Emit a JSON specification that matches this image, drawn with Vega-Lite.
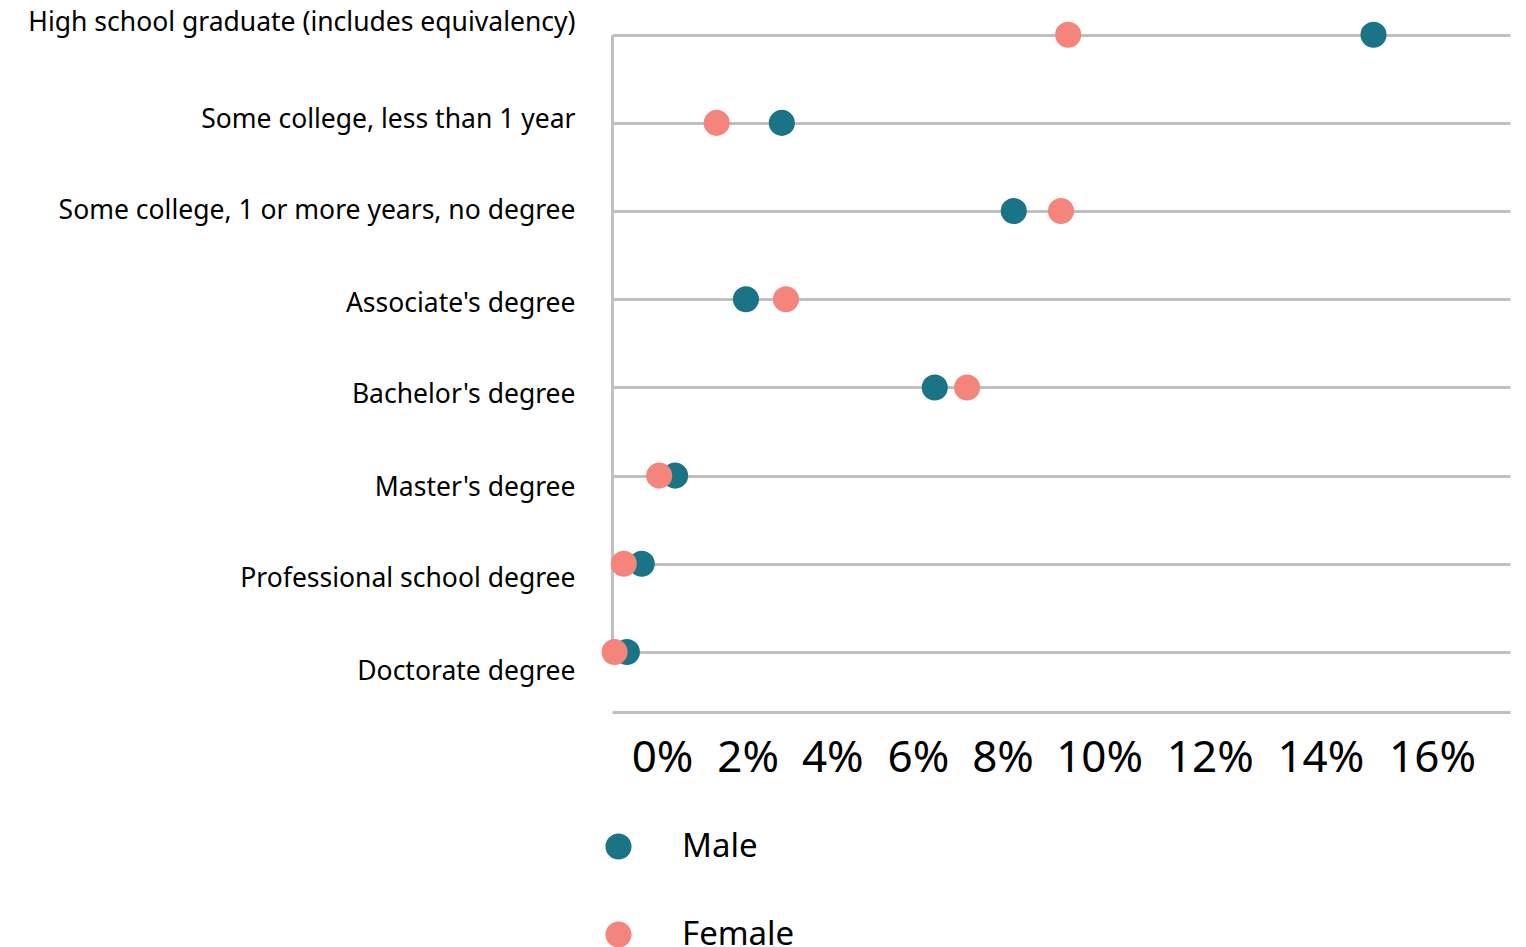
{
  "$schema": "https://vega.github.io/schema/vega-lite/v6.json",
  "autosize": "none",
  "width": 898,
  "height": 694,
  "padding": {"left": 612, "top": 18, "right": 16, "bottom": 235},
  "background": "white",
  "data": {
    "values": [
      {"level": "High school graduate (includes equivalency)", "sex": "Male", "pct": 0.1484},
      {"level": "Some college, less than 1 year", "sex": "Male", "pct": 0.0331},
      {"level": "Some college, 1 or more years, no degree", "sex": "Male", "pct": 0.0783},
      {"level": "Associate's degree", "sex": "Male", "pct": 0.0261},
      {"level": "Bachelor's degree", "sex": "Male", "pct": 0.0629},
      {"level": "Master's degree", "sex": "Male", "pct": 0.0123},
      {"level": "Professional school degree", "sex": "Male", "pct": 0.0058},
      {"level": "Doctorate degree", "sex": "Male", "pct": 0.0029},
      {"level": "High school graduate (includes equivalency)", "sex": "Female", "pct": 0.0889},
      {"level": "Some college, less than 1 year", "sex": "Female", "pct": 0.0204},
      {"level": "Some college, 1 or more years, no degree", "sex": "Female", "pct": 0.0875},
      {"level": "Associate's degree", "sex": "Female", "pct": 0.0339},
      {"level": "Bachelor's degree", "sex": "Female", "pct": 0.0692},
      {"level": "Master's degree", "sex": "Female", "pct": 0.0092},
      {"level": "Professional school degree", "sex": "Female", "pct": 0.0023},
      {"level": "Doctorate degree", "sex": "Female", "pct": 0.0005}
    ]
  },
  "mark": {"type": "point", "filled": true, "opacity": 1, "size": 680, "shape": "circle"},
  "encoding": {
    "x": {
      "field": "pct",
      "type": "quantitative",
      "scale": {"domain": [0, 0.175], "nice": false, "zero": true},
      "axis": {
        "title": null,
        "values": [0, 0.02, 0.04, 0.06, 0.08, 0.1, 0.12, 0.14, 0.16],
        "format": ".0%",
        "grid": false,
        "ticks": false,
        "domain": true,
        "domainColor": "#bfbfbf",
        "domainWidth": 3,
        "labelFont": "Noto Sans",
        "labelFontSize": 44,
        "labelColor": "#000000",
        "labelBaseline": "middle",
        "labelPadding": 46,
        "labelFlush": false,
        "labelOverlap": false,
        "labelOffset": {
          "condition": [
            {"test": "abs(datum.value - 0) < 0.001", "value": 50},
            {"test": "abs(datum.value - 0.02) < 0.001", "value": 33},
            {"test": "abs(datum.value - 0.04) < 0.001", "value": 15},
            {"test": "abs(datum.value - 0.06) < 0.001", "value": -2},
            {"test": "abs(datum.value - 0.08) < 0.001", "value": -20},
            {"test": "abs(datum.value - 0.1) < 0.001", "value": -26},
            {"test": "abs(datum.value - 0.12) < 0.001", "value": -18},
            {"test": "abs(datum.value - 0.14) < 0.001", "value": -10}
          ],
          "value": -1
        }
      }
    },
    "y": {
      "field": "level",
      "type": "nominal",
      "sort": null,
      "scale": {"type": "point", "range": [16.7, 634], "padding": 0},
      "axis": {
        "title": null,
        "ticks": false,
        "grid": true,
        "gridColor": "#bfbfbf",
        "gridWidth": 3,
        "domain": true,
        "domainColor": "#bfbfbf",
        "domainWidth": 3,
        "labelFont": "Noto Sans",
        "labelFontSize": 26.5,
        "labelColor": "#000000",
        "labelPadding": 37,
        "labelLimit": 700,
        "labelOffset": {
          "condition": [
            {"test": "datum.value === 'High school graduate (includes equivalency)'", "value": -12},
            {"test": "datum.value === 'Some college, less than 1 year'", "value": -3},
            {"test": "datum.value === 'Some college, 1 or more years, no degree'", "value": -1},
            {"test": "datum.value === \"Associate's degree\"", "value": 4},
            {"test": "datum.value === \"Bachelor's degree\"", "value": 7},
            {"test": "datum.value === \"Master's degree\"", "value": 11.5},
            {"test": "datum.value === 'Professional school degree'", "value": 15}
          ],
          "value": 19.5
        }
      }
    },
    "color": {
      "field": "sex",
      "type": "nominal",
      "sort": ["Male", "Female"],
      "scale": {"domain": ["Male", "Female"], "range": ["#1b7386", "#f4857c"]},
      "legend": {
        "title": null,
        "orient": "none",
        "legendX": -10,
        "legendY": 812,
        "direction": "vertical",
        "padding": 0,
        "symbolType": "circle",
        "symbolSize": 680,
        "symbolStrokeWidth": 0,
        "symbolOpacity": 1,
        "labelFont": "Noto Sans",
        "labelFontSize": 33,
        "labelColor": "#000000",
        "labelOffset": 47,
        "rowPadding": 54
      }
    }
  },
  "config": {
    "view": {"stroke": null}
  }
}
